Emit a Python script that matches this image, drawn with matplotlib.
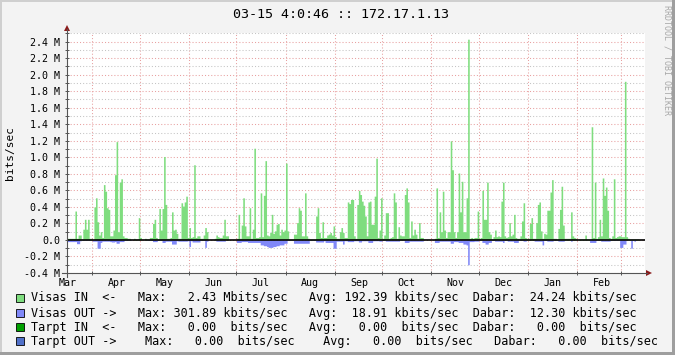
import numpy as np
import pandas as pd
import matplotlib
matplotlib.use("Agg")
import matplotlib.pyplot as plt
from matplotlib.patches import Rectangle, Polygon
from matplotlib.lines import Line2D

W, H = 675, 355

title = "03-15 4:0:46 :: 172.17.1.13"
ylabel = "bits/sec"
watermark = "RRDTOOL / TOBI OETIKER"
start_date = "2006-03-16"

# daily averages, Mbit/s
visas_in = [
    0.02, 0.02, 0.02, 0.02, 0.02, 0.35, 0.02, 0.06, 0.06, 0.01,
    0.13, 0.25, 0.13, 0.25, 0.02, 0.02, 0.00, 0.40, 0.51, 0.22,
    0.06, 0.10, 0.03, 0.67, 0.59, 0.39, 0.37, 0.05, 0.05, 0.12,
    0.79, 1.19, 0.10, 0.70, 0.74, 0.05, 0.03, 0.03, 0.02, 0.02,
    0.00, 0.00, 0.02, 0.01, 0.01, 0.27, 0.03, 0.00, 0.00, 0.02,
    0.01, 0.01, 0.03, 0.03, 0.20, 0.25, 0.03, 0.01, 0.38, 0.12,
    0.38, 1.01, 0.43, 0.02, 0.02, 0.03, 0.34, 0.12, 0.13, 0.08,
    0.02, 0.02, 0.45, 0.41, 0.46, 0.53, 0.03, 0.15, 0.03, 0.04,
    0.91, 0.03, 0.05, 0.05, 0.02, 0.02, 0.06, 0.15, 0.10, 0.00,
    0.00, 0.00, 0.00, 0.02, 0.06, 0.04, 0.03, 0.03, 0.06, 0.25,
    0.05, 0.05, 0.00, 0.00, 0.00, 0.00, 0.00, 0.02, 0.31, 0.02,
    0.18, 0.51, 0.17, 0.05, 0.05, 0.39, 0.02, 0.13, 1.11, 0.03,
    0.03, 0.04, 0.57, 0.04, 0.54, 0.96, 0.06, 0.05, 0.09, 0.31,
    0.08, 0.11, 0.19, 0.20, 0.06, 0.13, 0.10, 0.12, 0.93, 0.11,
    0.01, 0.01, 0.01, 0.07, 0.07, 0.21, 0.39, 0.36, 0.05, 0.05,
    0.57, 0.05, 0.02, 0.01, 0.01, 0.01, 0.01, 0.29, 0.39, 0.09,
    0.03, 0.22, 0.03, 0.03, 0.06, 0.07, 0.09, 0.06, 0.17, 0.04,
    0.02, 0.02, 0.10, 0.15, 0.09, 0.03, 0.03, 0.46, 0.44, 0.49,
    0.49, 0.05, 0.02, 0.43, 0.60, 0.55, 0.47, 0.42, 0.29, 0.05,
    0.46, 0.47, 0.19, 0.19, 0.53, 0.99, 0.03, 0.12, 0.51, 0.02,
    0.06, 0.33, 0.33, 0.02, 0.03, 0.04, 0.57, 0.46, 0.02, 0.16,
    0.06, 0.05, 0.05, 0.55, 0.63, 0.46, 0.03, 0.23, 0.06, 0.13,
    0.07, 0.02, 0.21, 0.03, 0.03, 0.00, 0.00, 0.00, 0.00, 0.00,
    0.00, 0.00, 0.02, 0.63, 0.03, 0.34, 0.10, 0.59, 0.12, 0.03,
    0.10, 0.10, 1.20, 0.85, 0.10, 0.03, 0.10, 0.81, 0.34, 0.71,
    0.10, 0.10, 0.51, 2.43, 0.02, 0.03, 0.02, 0.03, 0.03, 0.35,
    0.02, 0.03, 0.60, 0.25, 0.25, 0.70, 0.10, 0.07, 0.01, 0.04,
    0.12, 0.04, 0.05, 0.04, 0.47, 0.70, 0.05, 0.03, 0.04, 0.21,
    0.05, 0.07, 0.31, 0.03, 0.02, 0.02, 0.05, 0.23, 0.45, 0.03,
    0.02, 0.02, 0.20, 0.27, 0.02, 0.02, 0.21, 0.43, 0.46, 0.11,
    0.02, 0.08, 0.07, 0.36, 0.36, 0.58, 0.73, 0.02, 0.02, 0.01,
    0.14, 0.37, 0.65, 0.18, 0.02, 0.02, 0.02, 0.02, 0.34, 0.05,
    0.03, 0.02, 0.00, 0.01, 0.01, 0.01, 0.01, 0.06, 0.01, 0.01,
    0.01, 1.37, 0.03, 0.70, 0.02, 0.04, 0.25, 0.05, 0.75, 0.54,
    0.64, 0.36, 0.03, 0.02, 0.05, 0.74, 0.03, 0.04, 0.05, 0.05,
    0.04, 0.04, 1.92, 0.04, 0.02, 0.01, 0.01, 0.01, 0.01, 0.01,
    0.01, 0.00, 0.00, 0.00, 0.00,
]

visas_out = [
    .02, .02, .02, .02, .02, .02, .045, .045, .01, .005,
    .005, .005, .005, .005, .005, .005, .015, .015, .015, .10,
    .10, .03, .015, .015, .015, .015, .015, .02, .025, .025,
    .02, .04, .04, .02, .02, .02, .005, .005, .005, .005,
    .005, 0, 0, 0, 0, 0, 0, 0, 0, 0,
    .005, .005, .005, .005, .02, .02, .02, .005, .005, .005,
    .03, .03, .015, .015, .015, .015, .05, .05, .05, .01,
    .015, .015, .015, .015, .015, .015, .01, .08, .01, .025,
    .025, .025, .025, .025, .005, .005, .005, .09, .015, 0,
    0, 0, 0, 0, .015, .015, .015, .015, .015, .015,
    0, 0, 0, 0, 0, 0, 0, .03, .03, .03,
    .02, .02, .02, .02, .03, .03, .03, .03, .03, .03,
    .03, .03, .06, .06, .07, .07, .08, .09, .09, .09,
    .08, .08, .07, .07, .06, .06, .06, .04, .04, .005,
    .005, .005, .005, .04, .04, .04, .04, .04, .04, .04,
    .04, .04, .04, .005, .005, .005, .005, .025, .025, .025,
    .025, .025, .01, .03, .03, .03, .03, .03, .10, .10,
    .015, .015, .015, .015, .05, .01, .01, .02, .02, .02,
    .02, .01, .01, .01, .025, .025, .01, .01, .01, .01,
    .03, .03, .03, .01, .01, .01, .01, .015, .015, .005,
    .005, .015, .015, .015, .015, .015, .015, .015, .015, .015,
    .005, .005, .005, .03, .03, .03, .015, .015, .015, .015,
    .015, .015, .015, .015, .015, 0, 0, 0, 0, 0,
    0, 0, .03, .03, .03, .015, .015, .015, .015, .015,
    .015, .015, .04, .04, .02, .02, .02, .03, .03, .03,
    .05, .05, .06, .30, .02, .02, .02, .015, .015, .015,
    .005, .005, .03, .03, .05, .05, .03, .03, .005, .005,
    .015, .015, .015, .015, .015, .03, .005, .005, .015, .015,
    .015, .015, .03, .03, .03, .005, .005, .005, .015, .015,
    0, 0, 0, 0, 0, .015, .015, .015, .015, .015,
    .06, .005, .005, .015, .015, .015, .015, .005, .005, .005,
    .015, .015, .015, .015, 0, 0, 0, 0, .015, 0,
    0, 0, 0, 0, 0, 0, 0, 0, 0, 0,
    .03, .03, .03, .03, .005, .005, .005, .015, .015, .015,
    .015, .015, .015, .005, .005, .005, .005, .005, .005, .09,
    .09, .05, .05, 0, 0, 0, .10, 0, .015, 0,
    0, 0, 0, 0, 0,
]

legend_colors = ["#7FDD7F", "#8088F8", "#00A000", "#5070C8"]
legend_rows = [
    "Visas IN  <-   Max:   2.43 Mbits/sec   Avg: 192.39 kbits/sec  Dabar:  24.24 kbits/sec",
    "Visas OUT ->   Max: 301.89 kbits/sec   Avg:  18.91 kbits/sec  Dabar:  12.30 kbits/sec",
    "Tarpt IN  <-   Max:   0.00  bits/sec   Avg:   0.00  bits/sec  Dabar:   0.00  bits/sec",
    "Tarpt OUT ->    Max:   0.00  bits/sec    Avg:   0.00  bits/sec   Dabar:   0.00  bits/sec",
]

MONO = "DejaVu Sans Mono"
BACK = "#F3F3F3"
AXIS = "#555555"
ARROW = "#8B1A1A"
MGRID = "#E8A0A0"
GRID = "#C4C4C4"


def fx(px):
    return px / W


def fy(py):
    return 1 - py / H


n = len(visas_in)
days = np.arange(n + 1)
vin = np.append(visas_in, visas_in[-1])
vout = -np.append(visas_out, visas_out[-1])

start = pd.Timestamp(start_date)
months = pd.date_range(start - pd.offsets.MonthBegin(1), periods=14, freq="MS")
month_off = np.array((months - start).days)
month_names = list(months.strftime("%b"))

fig = plt.figure(figsize=(W / 100, H / 100), dpi=100, facecolor=BACK)
ax = fig.add_axes([fx(67), fy(273), (645 - 67) / W, (273 - 33.4) / H])
ax.set_facecolor("white")
ax.set_xlim(0, n)
ax.set_ylim(-0.4, 2.5)
for s in ax.spines.values():
    s.set_visible(False)

ax.fill_between(days, 0, vin, step="post", color=legend_colors[0], lw=0,
                antialiased=False, zorder=2)
ax.fill_between(days, 0, vout, step="post", color=legend_colors[1], lw=0,
                antialiased=False, zorder=2)
ax.axhline(0, color="black", lw=1.2, zorder=3)

# grid
major_y = np.round(np.arange(-0.4, 2.41, 0.2), 1)
minor_y = np.round(np.arange(-0.3, 2.51, 0.2), 1)
grid_x = month_off[(month_off > 0) & (month_off < n)]
ax.set_yticks(major_y)
ax.set_yticks(minor_y, minor=True)
ax.set_yticklabels(["0.0" if v == 0 else "%.1f M" % v for v in major_y],
                   family=MONO, fontsize=7.2)
ax.set_xticks(grid_x)
ax.set_xticklabels([])
lab_x = month_off + 15.5
keep = (lab_x > 0) & (lab_x < n)
ax.set_xticks(lab_x[keep], minor=True)
ax.set_xticklabels([m for m, k in zip(month_names, keep) if k], minor=True,
                   family=MONO, fontsize=7.2)
ax.grid(True, which="major", axis="both", color=MGRID, lw=0.75, ls=(0, (1, 2)), zorder=1)
ax.grid(True, which="minor", axis="y", color=GRID, lw=0.75, ls=(0, (1, 2)), zorder=1)
ax.set_axisbelow(True)
ax.tick_params(axis="y", which="both", direction="inout", length=2.5, width=0.7,
               color=AXIS, pad=3.5)
ax.tick_params(axis="x", which="major", direction="inout", length=2.5, width=0.7,
               color=AXIS)
ax.tick_params(axis="x", which="minor", length=0, pad=3.5)

# axis lines and arrows
fig.add_artist(Line2D([fx(67), fx(67)], [fy(277), fy(29)], color=AXIS, lw=0.8))
fig.add_artist(Line2D([fx(62), fx(647)], [fy(273), fy(273)], color=AXIS, lw=0.8))
fig.add_artist(Polygon([(fx(64), fy(31)), (fx(70), fy(31)), (fx(67), fy(25))],
                       closed=True, color=ARROW, lw=0))
fig.add_artist(Polygon([(fx(646), fy(270)), (fx(646), fy(276)), (fx(652), fy(273))],
                       closed=True, color=ARROW, lw=0))

# texts
fig.text(fx(341), fy(14), title, ha="center", va="center", family=MONO, fontsize=9.6)
fig.text(fx(10), fy(153), ylabel, rotation=90, ha="center", va="center",
         family=MONO, fontsize=8)
fig.text(fx(666.5), fy(60), watermark, rotation=-90, ha="center", va="center",
         family=MONO, fontsize=6, color="#A8A8A8")

row_y = [298, 313, 327, 341]
for row, col, y in zip(legend_rows, legend_colors, row_y):
    fig.add_artist(Rectangle((fx(16), fy(y + 4)), 8 / W, 8 / H, facecolor=col,
                             edgecolor="black", lw=0.6))
    fig.text(fx(31), fy(y), row, ha="left", va="center", family=MONO, fontsize=8.5)

# 3d frame
fig.add_artist(Rectangle((0, fy(2)), 1, 2 / H, color="#CFCFCF", lw=0))
fig.add_artist(Rectangle((0, 0), 2 / W, 1, color="#CFCFCF", lw=0))
fig.add_artist(Rectangle((0, 0), 1, 3 / H, color="#9E9E9E", lw=0))
fig.add_artist(Rectangle((fx(672), 0), 3 / W, 1, color="#9E9E9E", lw=0))

fig.savefig("out.png", dpi=100, facecolor=BACK)
